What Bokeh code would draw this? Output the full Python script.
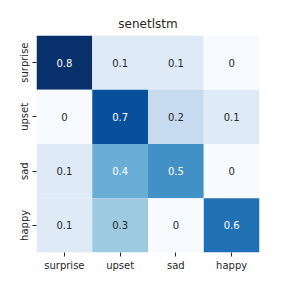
from bokeh.plotting import figure
from bokeh.models import ColumnDataSource, FactorRange, LinearColorMapper
from bokeh.palettes import Blues256
from bokeh.core.properties import value
from bokeh.embed import file_html
from bokeh.resources import INLINE

labels = ["surprise", "upset", "sad", "happy"]
row_surprise = [0.8, 0.1, 0.1, 0.0]
row_upset = [0.0, 0.7, 0.2, 0.1]
row_sad = [0.1, 0.4, 0.5, 0.0]
row_happy = [0.1, 0.3, 0.0, 0.6]
rows = [row_surprise, row_upset, row_sad, row_happy]

xs, ys, vals, txt, tcol = [], [], [], [], []
for rl, row in zip(labels, rows):
    for cl, v in zip(labels, row):
        xs.append(cl)
        ys.append(rl)
        vals.append(v)
        txt.append("0" if v == 0 else f"{v:g}")
        tcol.append("white" if v >= 0.4 else "#262626")

src = ColumnDataSource(dict(x=xs, y=ys, v=vals, t=txt, c=tcol))
mapper = LinearColorMapper(palette=list(reversed(Blues256)), low=0, high=0.8)

p = figure(width=288, height=288, output_backend="svg", toolbar_location=None,
           x_range=FactorRange(factors=labels),
           y_range=FactorRange(factors=list(reversed(labels))),
           min_border_left=36, min_border_right=29, min_border_top=35, min_border_bottom=36,
           title="senetlstm")
p.rect(x="x", y="y", width=1, height=1, source=src,
       fill_color={"field": "v", "transform": mapper}, line_color=None)
p.text(x="x", y="y", text="t", source=src, text_color="c",
       text_align="center", text_baseline="middle",
       text_font=value("DejaVu Sans"), text_font_size="10px")

p.title.align = "center"
p.title.text_font = "DejaVu Sans"
p.title.text_font_size = "12px"
p.title.text_font_style = "normal"
p.title.text_color = "#262626"
p.outline_line_color = None
p.xgrid.grid_line_color = None
p.ygrid.grid_line_color = None
for ax in (p.xaxis, p.yaxis):
    ax.axis_line_color = None
    ax.major_tick_in = 0
    ax.major_tick_out = 4
    ax.major_tick_line_color = "#262626"
    ax.minor_tick_line_color = None
    ax.major_label_text_font = "DejaVu Sans"
    ax.major_label_text_font_size = "10px"
    ax.major_label_text_color = "#262626"
    ax.major_label_standoff = 3
p.yaxis.major_label_orientation = "vertical"
p.x_range.range_padding = 0
p.y_range.range_padding = 0

open("out.html", "w").write(file_html(p, INLINE))
